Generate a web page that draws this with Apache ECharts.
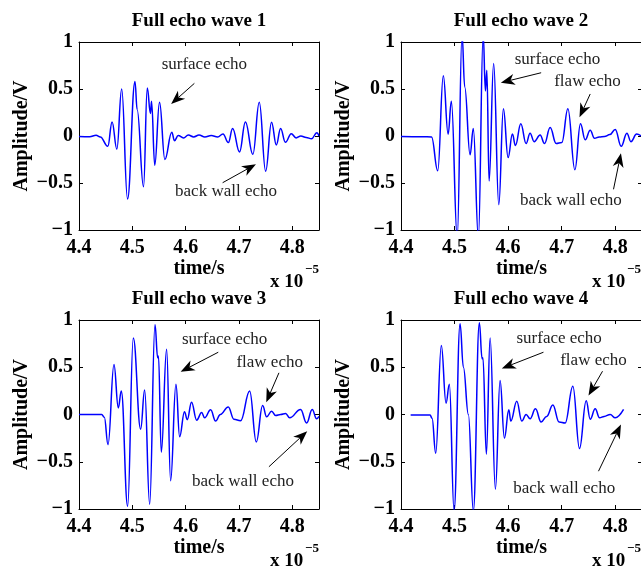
<!DOCTYPE html>
<html>
<head>
<meta charset="utf-8">
<script src="https://cdn.jsdelivr.net/npm/echarts@6/dist/echarts.min.js"></script>
<style>
  html, body { margin: 0; padding: 0; background: #fff; }
  #chart { width: 641px; height: 568px; }
</style>
</head>
<body>
<div id="chart"></div>
<script>
// ---- Echo waveforms (time in units of 1e-5 s, amplitude in V) ----
const wave1Time = [4.400, 4.420, 4.432, 4.440, 4.454, 4.462, 4.471, 4.480, 4.491, 4.505,
  4.509, 4.521, 4.528, 4.534, 4.536, 4.542, 4.551, 4.561, 4.574, 4.579,
  4.586, 4.596, 4.605, 4.615, 4.625, 4.636, 4.648, 4.660, 4.670, 4.680,
  4.688, 4.701, 4.712, 4.726, 4.738, 4.750, 4.761, 4.770, 4.778, 4.787,
  4.798, 4.807, 4.816, 4.826, 4.836, 4.846, 4.850];
const wave1Amp = [-0.005, -0.008, 0.007, -0.010, -0.110, 0.150, -0.140, 0.500, -0.670, 0.580,
  0.280, -0.540, 0.510, 0.240, 0.370, -0.310, 0.360, -0.250, 0.040, -0.050,
  0.005, -0.020, 0.010, -0.010, 0.010, -0.010, 0.005, -0.010, 0.020, -0.070,
  0.080, -0.170, 0.150, -0.195, 0.360, -0.375, 0.145, -0.095, 0.080, -0.067,
  0.025, -0.020, 0.000, -0.015, -0.030, 0.035, 0.000];

const wave2Time = [4.400, 4.440, 4.457, 4.4686, 4.479, 4.488, 4.494, 4.505, 4.514, 4.519,
  4.529, 4.535, 4.5445, 4.5535, 4.5576, 4.5603, 4.5645, 4.5730, 4.5826, 4.5912,
  4.600, 4.608, 4.6137, 4.6237, 4.6336, 4.641, 4.6486, 4.6598, 4.6679, 4.6785,
  4.6897, 4.7003, 4.7116, 4.7247, 4.7351, 4.744, 4.7533, 4.7614, 4.770, 4.780,
  4.790, 4.800, 4.8112, 4.8218, 4.8293, 4.840, 4.8486];
const wave2Amp = [-0.005, -0.007, -0.010, -0.370, 0.640, 0.020, 0.370, -1.080, 1.080, 0.520,
  -0.200, 0.080, -1.080, 1.080, 0.480, 0.700, -0.480, 0.770, -0.730, 0.290,
  -0.230, 0.020, -0.100, 0.130, -0.080, 0.030, -0.060, 0.010, -0.080, 0.090,
  -0.080, -0.070, 0.290, -0.360, 0.130, -0.040, 0.060, -0.025, -0.010, -0.005,
  0.015, 0.070, -0.110, 0.030, -0.060, 0.020, 0.000];

const wave3Time = [4.400, 4.4425, 4.4475, 4.4544, 4.4656, 4.4737, 4.4793, 4.4912, 4.5018, 4.5156,
  4.5231, 4.5325, 4.5425, 4.5475, 4.5490, 4.5543, 4.5643, 4.5718, 4.5818, 4.5887,
  4.5978, 4.6030, 4.6110, 4.6206, 4.6300, 4.6356, 4.6468, 4.6562, 4.6650, 4.6799,
  4.6905, 4.7030, 4.7200, 4.7324, 4.7443, 4.7518, 4.7612, 4.7687, 4.7780, 4.7874,
  4.7950, 4.8155, 4.8268, 4.8373, 4.8455, 4.8500];
const wave3Amp = [0.000, 0.000, -0.030, -0.320, 0.530, 0.070, 0.250, -0.970, 0.810, -0.155,
  0.260, -0.950, 0.950, 0.600, 0.620, -0.400, 0.690, -0.700, 0.320, -0.235,
  0.030, -0.055, 0.130, -0.060, 0.020, -0.035, 0.050, -0.070, 0.000, 0.080,
  -0.050, -0.065, 0.250, -0.290, 0.095, -0.025, 0.035, -0.010, 0.000, 0.010,
  -0.035, 0.053, -0.090, 0.053, -0.046, -0.020];

const wave4Time = [4.418, 4.4542, 4.4580, 4.4648, 4.4753, 4.4841, 4.4903, 4.4991, 4.5103, 4.5165,
  4.5258, 4.5351, 4.5463, 4.5514, 4.5530, 4.5594, 4.5664, 4.5763, 4.5850, 4.5931,
  4.6013, 4.6050, 4.6162, 4.6256, 4.6336, 4.6411, 4.6511, 4.6617, 4.6720, 4.6835,
  4.6953, 4.7065, 4.7209, 4.7333, 4.7458, 4.7533, 4.7626, 4.7707, 4.7794, 4.7907,
  4.8000, 4.8156];
const wave4Amp = [-0.005, -0.005, -0.040, -0.410, 0.730, 0.120, 0.320, -1.020, 0.960, 0.500,
  0.000, -1.020, 0.970, 0.590, 0.600, -0.420, 0.810, -0.790, 0.360, -0.250,
  0.050, -0.070, 0.140, -0.070, 0.000, -0.045, 0.060, -0.080, -0.020, 0.100,
  -0.080, -0.090, 0.300, -0.360, 0.145, -0.050, 0.060, -0.035, -0.020, 0.000,
  -0.035, 0.053];

const panelTitles = ['Full echo wave 1', 'Full echo wave 2', 'Full echo wave 3', 'Full echo wave 4'];

// Axis ticks and their labels
const timeTicks = [4.4, 4.5, 4.6, 4.7, 4.8];
const timeTickLabels = ['4.4', '4.5', '4.6', '4.7', '4.8'];
const ampTicks = [-1, -0.5, 0, 0.5, 1];
const ampTickLabels = ['\u22121', '\u22120.5', '0', '0.5', '1'];

// Callout labels with arrows (data coordinates)
const calloutPanel = [0, 0, 1, 1, 1, 2, 2, 2, 3, 3, 3];
const calloutText = ['surface echo', 'back wall echo',
  'surface echo', 'flaw echo', 'back wall echo',
  'surface echo', 'flaw echo', 'back wall echo',
  'surface echo', 'flaw echo', 'back wall echo'];
const calloutTextAt = [[4.635, 0.755], [4.6757, -0.596],
  [4.6921, 0.816], [4.7482, 0.578], [4.7172, -0.691],
  [4.6731, 0.794], [4.7575, 0.547], [4.7074, -0.706],
  [4.6953, 0.801], [4.7594, 0.575], [4.7047, -0.783]];
const calloutFrom = [[4.6163, 0.56], [4.6693, -0.497],
  [4.6617, 0.673], [4.7533, 0.447], [4.7968, -0.567],
  [4.6611, 0.659], [4.7749, 0.441], [4.7561, -0.553],
  [4.666, 0.659], [4.7763, 0.458], [4.7688, -0.60]];
const calloutTo = [[4.5727, 0.34], [4.7318, -0.30],
  [4.5864, 0.567], [4.7333, 0.199], [4.8107, -0.184],
  [4.5906, 0.452], [4.7511, 0.130], [4.8279, -0.177],
  [4.5882, 0.487], [4.7501, 0.201], [4.8107, -0.106]];

// ---- Layout ----
const panelBoxes = [
  { left: 79, top: 42, width: 240, height: 188 },
  { left: 401, top: 42, width: 241, height: 188 },
  { left: 79, top: 320, width: 240, height: 189 },
  { left: 401, top: 320, width: 241, height: 189 }
];
const SERIF = '"Liberation Serif", "Times New Roman", serif';
const boldText = { fontFamily: SERIF, fontWeight: 'bold', fontSize: 20, color: '#000' };

function pickLabel(ticks, labels, v) {
  for (let i = 0; i < ticks.length; i++) {
    if (Math.abs(ticks[i] - v) < 1e-6) return labels[i];
  }
  return '';
}

const waves = [
  [wave1Time, wave1Amp], [wave2Time, wave2Amp],
  [wave3Time, wave3Amp], [wave4Time, wave4Amp]
];

const grids = [], xAxes = [], yAxes = [], series = [];
panelBoxes.forEach((b, i) => {
  grids.push({ left: b.left, top: b.top, width: b.width, height: b.height,
    containLabel: false, outerBoundsMode: 'none', show: false });
  const lineStyle = { color: '#000', width: 1 };
  // bottom (labelled) and top (mirrored ticks) x axes
  xAxes.push({
    gridIndex: i, type: 'value', position: 'bottom', min: 4.4, max: 4.85, interval: 0.1,
    axisLine: { show: true, onZero: false, lineStyle },
    axisTick: { show: true, inside: true, length: 4, lineStyle },
    axisLabel: Object.assign({ margin: 8, showMaxLabel: false,
      formatter: v => pickLabel(timeTicks, timeTickLabels, v) }, boldText),
    splitLine: { show: false },
    name: 'time/s', nameLocation: 'middle', nameGap: 28, nameTextStyle: boldText
  });
  xAxes.push({
    gridIndex: i, type: 'value', position: 'top', min: 4.4, max: 4.85, interval: 0.1,
    axisLine: { show: true, onZero: false, lineStyle },
    axisTick: { show: true, inside: true, length: 4, lineStyle },
    axisLabel: { show: false }, splitLine: { show: false }
  });
  yAxes.push({
    gridIndex: i, type: 'value', position: 'left', min: -1, max: 1, interval: 0.5,
    axisLine: { show: true, onZero: false, lineStyle },
    axisTick: { show: true, inside: true, length: 4, lineStyle },
    axisLabel: Object.assign({ margin: 6,
      formatter: v => pickLabel(ampTicks, ampTickLabels, v) }, boldText),
    splitLine: { show: false },
    name: 'Amplitude/V', nameLocation: 'middle', nameGap: 47, nameRotate: 90,
    nameTextStyle: boldText
  });
  yAxes.push({
    gridIndex: i, type: 'value', position: 'right', min: -1, max: 1, interval: 0.5,
    axisLine: { show: true, onZero: false, lineStyle },
    axisTick: { show: true, inside: true, length: 4, lineStyle },
    axisLabel: { show: false }, splitLine: { show: false }
  });
  const [ts, vs] = waves[i];
  series.push({
    type: 'line', xAxisIndex: 2 * i, yAxisIndex: 2 * i,
    data: ts.map((t, k) => [t, vs[k]]),
    showSymbol: false, symbol: 'none',
    smooth: 0.42, smoothMonotone: 'x', clip: true,
    lineStyle: { color: '#0000ff', width: 1.5 },
    emphasis: { disabled: true }
  });
});

const chart = echarts.init(document.getElementById('chart'), null, { renderer: 'canvas' });
chart.setOption({
  backgroundColor: '#fff',
  animation: false,
  grid: grids, xAxis: xAxes, yAxis: yAxes, series: series
});

// ---- Titles, exponent labels and callouts ----
const graphics = [];
panelBoxes.forEach((b, i) => {
  graphics.push({
    type: 'text', silent: true,
    style: { text: panelTitles[i], x: b.left + 120, y: b.top - 21,
      font: 'bold 19px ' + SERIF, fill: '#000', align: 'center', verticalAlign: 'middle' }
  });
  const ex = b.left + 191, ey = b.top + b.height + 52;
  graphics.push({
    type: 'text', silent: true,
    style: { text: 'x 10', x: ex, y: ey, font: 'bold 19px ' + SERIF, fill: '#000',
      align: 'left', verticalAlign: 'middle' }
  });
  graphics.push({
    type: 'text', silent: true,
    style: { text: '\u22125', x: ex + 35, y: ey - 12, font: 'bold 13px ' + SERIF, fill: '#000',
      align: 'left', verticalAlign: 'middle' }
  });
});

calloutText.forEach((txt, i) => {
  const s = calloutPanel[i];
  const pt = chart.convertToPixel({ seriesIndex: s }, calloutTextAt[i]);
  const p0 = chart.convertToPixel({ seriesIndex: s }, calloutFrom[i]);
  const p1 = chart.convertToPixel({ seriesIndex: s }, calloutTo[i]);
  graphics.push({
    type: 'text', silent: true,
    style: { text: txt, x: pt[0], y: pt[1], font: '17px ' + SERIF, fill: '#222',
      align: 'center', verticalAlign: 'middle' }
  });
  const dx = p1[0] - p0[0], dy = p1[1] - p0[1];
  const len = Math.sqrt(dx * dx + dy * dy);
  const ux = dx / len, uy = dy / len, nx = -uy, ny = ux;
  const headLen = 14, headHalf = 5.5, notch = 10;
  const bx = p1[0] - ux * headLen, by = p1[1] - uy * headLen;
  const mx = p1[0] - ux * notch, my = p1[1] - uy * notch;
  graphics.push({
    type: 'line', silent: true,
    shape: { x1: p0[0], y1: p0[1], x2: mx, y2: my },
    style: { stroke: '#000', lineWidth: 1 }
  });
  graphics.push({
    type: 'polygon', silent: true,
    shape: { points: [[p1[0], p1[1]], [bx + nx * headHalf, by + ny * headHalf], [mx, my],
      [bx - nx * headHalf, by - ny * headHalf]] },
    style: { fill: '#000' }
  });
});

chart.setOption({ graphic: graphics });
</script>
</body>
</html>
